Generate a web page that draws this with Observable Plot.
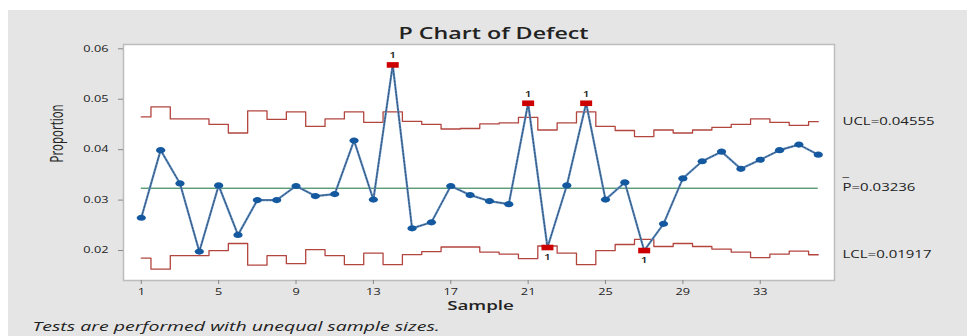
<!DOCTYPE html>
<html><head><meta charset="utf-8">
<script src="https://cdn.jsdelivr.net/npm/d3@7"></script>
<script src="https://cdn.jsdelivr.net/npm/@observablehq/plot@0.6"></script>
<style>
html,body{margin:0;padding:0;background:#fff;}
#wrap{position:relative;width:967px;height:336px;overflow:hidden;}
#bg{position:absolute;left:8px;top:10px;right:0;bottom:0;background:#e5e5e5;}
#chart{position:absolute;left:0;top:0;}
</style></head><body>
<div id="wrap"><div id="bg"></div><div id="chart"></div></div>
<script>
const samples = [1,2,3,4,5,6,7,8,9,10,11,12,13,14,15,16,17,18,19,20,21,22,23,24,25,26,27,28,29,30,31,32,33,34,35,36];
const proportion = [0.0265,0.0399,0.0333,0.0198,0.0329,0.0231,0.0300,0.0300,0.0328,0.0308,0.0312,0.0418,0.0301,0.0568,0.0244,0.0256,0.0328,0.0310,0.0298,0.0292,0.0492,0.0206,0.0329,0.0492,0.0301,0.0335,0.0200,0.0253,0.0343,0.0377,0.0396,0.0362,0.0380,0.0399,0.0410,0.0390];
const ucl = [0.0465,0.0485,0.0461,0.0461,0.0450,0.0433,0.0477,0.0460,0.0475,0.0446,0.0461,0.0475,0.0454,0.0475,0.0456,0.0450,0.0441,0.0442,0.0451,0.0453,0.0464,0.0439,0.0453,0.0475,0.0446,0.0438,0.0426,0.0439,0.0433,0.0439,0.0444,0.0450,0.0461,0.0454,0.0448,0.04555];
const lcl = [0.0185,0.0163,0.0190,0.0190,0.0200,0.0214,0.0171,0.0190,0.0174,0.0202,0.0190,0.0172,0.0195,0.0172,0.0192,0.0198,0.0207,0.0207,0.0197,0.0193,0.0184,0.0209,0.0195,0.0172,0.0200,0.0212,0.0222,0.0208,0.0214,0.0208,0.0203,0.0197,0.0186,0.0193,0.0199,0.01917];
const centerP = 0.03236;
const xTicks = [1,5,9,13,17,21,25,29,33];
const yTicks = [0.02,0.03,0.04,0.05,0.06];
const limitLabels = [
  {v: 0.04555, t: "UCL=0.04555"},
  {v: 0.03236, t: "P=0.03236"},
  {v: 0.01917, t: "LCL=0.01917"}
];
const titleText = "P Chart of Defect";
const xLabel = "Sample";
const yLabel = "Proportion";
const captionText = "Tests are performed with unequal sample sizes.";

const data = samples.map((s, i) => ({
  sample: s, p: proportion[i], ucl: ucl[i], lcl: lcl[i],
  above: proportion[i] > ucl[i], below: proportion[i] < lcl[i]
}));
const normal = data.filter(d => !d.above && !d.below);
const above = data.filter(d => d.above);
const below = data.filter(d => d.below);

const ellipse = {draw(ctx) {
  const rx = 4.6, ry = 3.1, k = 0.5523;
  ctx.moveTo(rx, 0);
  ctx.bezierCurveTo(rx, ry*k, rx*k, ry, 0, ry);
  ctx.bezierCurveTo(-rx*k, ry, -rx, ry*k, -rx, 0);
  ctx.bezierCurveTo(-rx, -ry*k, -rx*k, -ry, 0, -ry);
  ctx.bezierCurveTo(rx*k, -ry, rx, -ry*k, rx, 0);
  ctx.closePath();
}};
const redRect = {draw(ctx) { ctx.rect(-6, -2.8, 12, 5.6); }};

const fam = "'Open Sans', sans-serif";
const chart = Plot.plot({
  width: 967, height: 336,
  marginLeft: 123, marginRight: 133, marginTop: 44, marginBottom: 56,
  style: {fontFamily: fam, background: "transparent", color: "#222"},
  x: {domain: [0.08, 36.84]},
  y: {domain: [0.01406, 0.06085]},
  marks: [
    Plot.frame({fill: "white", stroke: "none"}),
    Plot.line(data, {x: "sample", y: "ucl", curve: "step", stroke: "#b3453f", strokeWidth: 1.3}),
    Plot.line(data, {x: "sample", y: "lcl", curve: "step", stroke: "#b3453f", strokeWidth: 1.3}),
    Plot.ruleY([centerP], {x1: 1, x2: 36, stroke: "#17703a", strokeWidth: 1}),
    Plot.line(data, {x: "sample", y: "p", stroke: "#5b8fc7", strokeWidth: 2.2}),
    Plot.line(data, {x: "sample", y: "p", stroke: "#2c3e55", strokeWidth: 0.8, strokeDasharray: "2,1.5"}),
    Plot.dot(normal, {x: "sample", y: "p", symbol: ellipse, fill: "#14599f", stroke: "none"}),
    Plot.dot(above.concat(below), {x: "sample", y: "p", symbol: redRect, fill: "#cc0000", stroke: "none"}),
    Plot.text(above, {x: "sample", y: "p", text: () => "1", dy: -9, fontSize: 8, fontWeight: 600, fill: "#222"}),
    Plot.text(below, {x: "sample", y: "p", text: () => "1", dy: 10, fontSize: 8, fontWeight: 600, fill: "#222"}),
    Plot.frame({stroke: "#bdbdbd", strokeWidth: 1.5}),
    Plot.axisY({ticks: yTicks, tickFormat: d => d.toFixed(2), tickSize: 5, tickPadding: 10, fontSize: 8.5, stroke: "#888", fill: "#222", label: null}),
    Plot.axisX({ticks: xTicks, tickFormat: d => String(d), tickSize: 4, tickPadding: 4, fontSize: 8.5, stroke: "#888", fill: "#222", label: null}),
    Plot.text(limitLabels, {y: "v", text: "t", frameAnchor: "right", dx: 8, textAnchor: "start", fontSize: 10, fill: "#222"}),
    Plot.text(["_"], {frameAnchor: "right", y: () => centerP, text: d => d, dx: 8, dy: -15, textAnchor: "start", fontSize: 10, fill: "#222"}),
    Plot.text([titleText], {frameAnchor: "top", text: d => d, dx: 14.5, dy: -17, fontSize: 15.5, fontWeight: 600, fill: "#222"}),
    Plot.text([xLabel], {frameAnchor: "bottom", text: d => d, dx: 1.5, dy: 29, fontSize: 12.5, fontWeight: 600, fill: "#222"}),
    Plot.text([yLabel], {frameAnchor: "left", text: d => d, dx: -66, rotate: -90, fontSize: 11.5, fill: "#222"}),
    Plot.text([captionText], {frameAnchor: "bottom-left", text: d => d, dx: -91, dy: 50, textAnchor: "start", fontSize: 13, fontStyle: "italic", fill: "#222"})
  ]
});

// horizontal stretch of the text, like the reference
chart.querySelectorAll("text").forEach(t => {
  let tr = t.getAttribute("transform");
  if (!tr) {
    const x = +(t.getAttribute("x") || 0), y = +(t.getAttribute("y") || 0);
    t.removeAttribute("x"); t.removeAttribute("y");
    tr = `translate(${x},${y})`;
  }
  t.setAttribute("transform", tr + (tr.includes("rotate") ? " scale(1,1.5)" : " scale(1.5,1)"));
});
document.getElementById("chart").appendChild(chart);
</script>
</body></html>
